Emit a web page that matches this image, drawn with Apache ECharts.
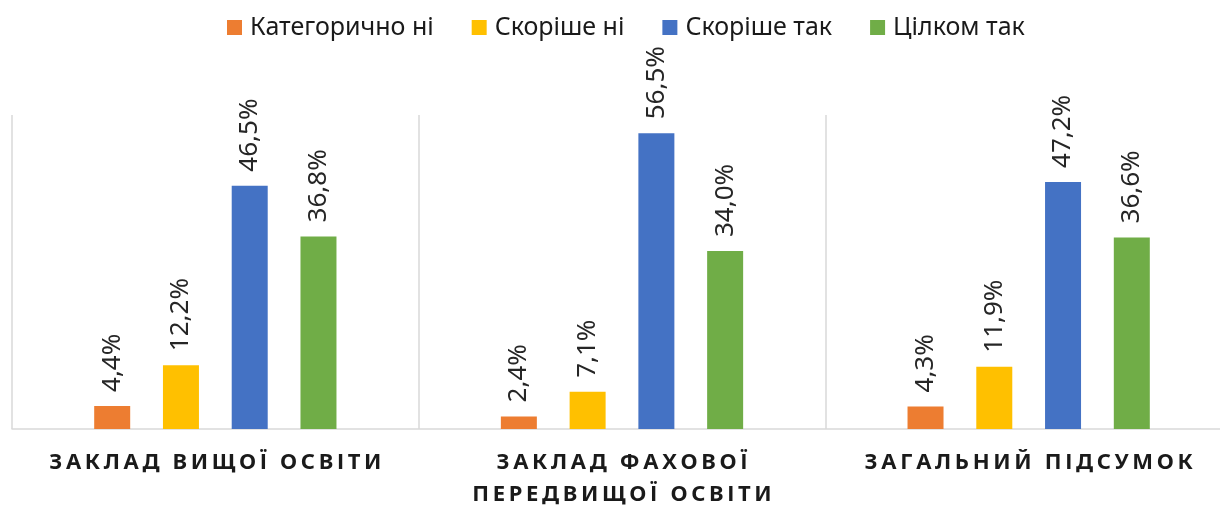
<!DOCTYPE html>
<html>
<head>
<meta charset="utf-8">
<script src="https://cdn.jsdelivr.net/npm/echarts@6/dist/echarts.min.js"></script>
<style>
  html, body { margin: 0; padding: 0; background: #fff; }
  #chart { width: 1220px; height: 506px; }
</style>
</head>
<body>
<div id="chart"></div>
<script>
// categories and series values (percent)
const categories = ['ЗАКЛАД ВИЩОЇ ОСВІТИ', 'ЗАКЛАД ФАХОВОЇ\nПЕРЕДВИЩОЇ ОСВІТИ', 'ЗАГАЛЬНИЙ ПІДСУМОК'];
const seriesNames = ['Категорично ні', 'Скоріше ні', 'Скоріше так', 'Цілком так'];
const seriesColors = ['#ED7D31', '#FFC000', '#4472C4', '#70AD47'];
const categoricallyNo = [4.4, 2.4, 4.3];
const ratherNo = [12.2, 7.1, 11.9];
const ratherYes = [46.5, 56.5, 47.2];
const fullyYes = [36.8, 34.0, 36.6];
const seriesValues = [categoricallyNo, ratherNo, ratherYes, fullyYes];

const font = 'Noto Sans';

// spread letters out a bit, like the wide-tracked axis labels in the original
function spaced(text) {
  return text.split('\n').map(line => line.split('').join('\u2009')).join('\n');
}

let myChart = echarts.init(document.getElementById('chart'));

let option = {
  animation: false,
  legend: {
    left: 222,
    top: 10,
    itemWidth: 15,
    itemHeight: 15,
    itemGap: 38,
    icon: 'rect',
    textStyle: {
      fontFamily: font,
      fontSize: 25,
      color: '#1a1a1a',
      padding: [0, 0, 0, 3]
    },
    data: seriesNames
  },
  grid: {
    left: 12,
    width: 1220,
    top: 115,
    bottom: 77,
    containLabel: false,
    outerBoundsMode: 'none'
  },
  xAxis: {
    type: 'category',
    data: categories,
    axisLine: { lineStyle: { color: '#d9d9d9', width: 1.5 } },
    axisTick: { show: false },
    splitLine: { show: true, interval: 0, lineStyle: { color: '#d9d9d9', width: 1.5 } },
    axisLabel: {
      interval: 0,
      margin: 18,
      fontFamily: font,
      fontSize: 22,
      fontWeight: 'bold',
      color: '#1a1a1a',
      lineHeight: 32,
      formatter: v => spaced(v)
    }
  },
  yAxis: {
    type: 'value',
    min: 0,
    max: 60,
    show: false,
    splitLine: { show: false }
  },
  series: seriesNames.map((name, i) => ({
    name: name,
    type: 'bar',
    barWidth: 36,
    barGap: '91%',
    itemStyle: { color: seriesColors[i] },
    label: {
      show: true,
      position: 'top',
      rotate: 90,
      align: 'left',
      verticalAlign: 'middle',
      distance: 14,
      fontFamily: font,
      fontSize: 26,
      color: '#262626',
      formatter: p => p.value.toFixed(1).replace('.', ',') + '%'
    },
    data: seriesValues[i]
  }))
};

myChart.setOption(option);
</script>
</body>
</html>
